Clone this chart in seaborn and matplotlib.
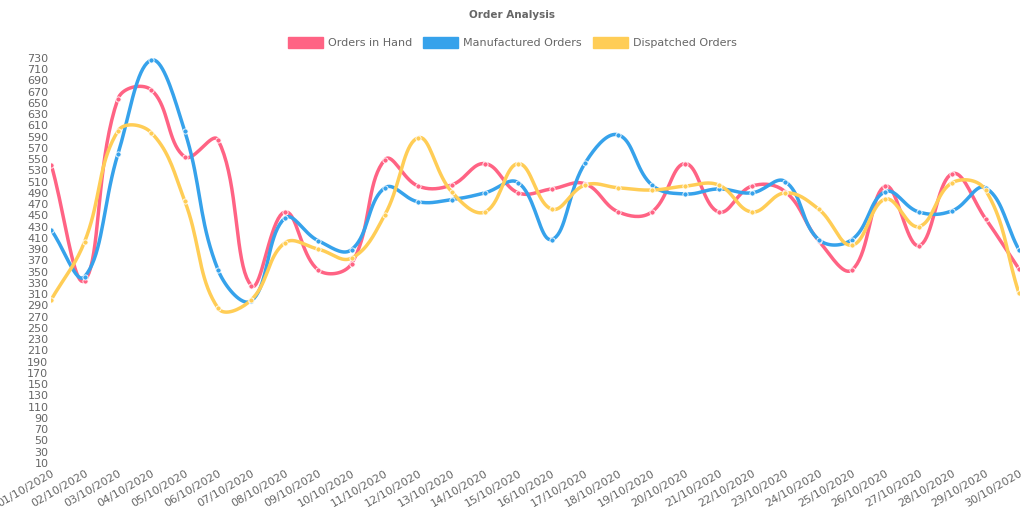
import numpy as np
import pandas as pd
import matplotlib
matplotlib.use("Agg")
import matplotlib.pyplot as plt
import seaborn as sns

dates = ["%02d/10/2020" % d for d in range(1, 31)]
orders_in_hand = [540, 334, 657, 673, 554, 584, 325, 456, 353, 364, 549, 502, 504, 542, 490,
                  497, 506, 456, 456, 542, 456, 502, 492, 405, 353, 502, 396, 524, 444, 355]
manufactured = [424, 341, 559, 726, 600, 353, 298, 445, 405, 389, 499, 474, 478, 490, 508,
                407, 543, 593, 504, 488, 497, 490, 510, 407, 407, 492, 456, 458, 499, 389]
dispatched = [300, 403, 600, 597, 476, 285, 300, 401, 390, 374, 451, 588, 492, 456, 542,
              461, 504, 499, 495, 502, 504, 456, 490, 461, 397, 479, 430, 508, 495, 312]

colors = {"Orders in Hand": "#FF6384", "Manufactured Orders": "#36A2EB", "Dispatched Orders": "#FFCD56"}


def spline(xs, ys, tension=0.4, steps=20):
    # bezier curve like chart.js
    xs = np.asarray(xs, float); ys = np.asarray(ys, float)
    n = len(xs)
    cps = []
    for i in range(n):
        p = (xs[max(i - 1, 0)], ys[max(i - 1, 0)])
        c = (xs[i], ys[i])
        nx = (xs[min(i + 1, n - 1)], ys[min(i + 1, n - 1)])
        d01 = np.hypot(c[0] - p[0], c[1] - p[1])
        d12 = np.hypot(nx[0] - c[0], nx[1] - c[1])
        s01 = d01 / (d01 + d12) if d01 + d12 else 0
        s12 = d12 / (d01 + d12) if d01 + d12 else 0
        fa, fb = tension * s01, tension * s12
        prev = (c[0] - fa * (nx[0] - p[0]), c[1] - fa * (nx[1] - p[1]))
        nxt = (c[0] + fb * (nx[0] - p[0]), c[1] + fb * (nx[1] - p[1]))
        cps.append((prev, nxt))
    t = np.linspace(0, 1, steps)
    ox, oy = [], []
    for i in range(n - 1):
        p0 = np.array([xs[i], ys[i]]); p3 = np.array([xs[i + 1], ys[i + 1]])
        p1 = np.array(cps[i][1]); p2 = np.array(cps[i + 1][0])
        pts = ((1 - t) ** 3)[:, None] * p0 + (3 * (1 - t) ** 2 * t)[:, None] * p1 \
            + (3 * (1 - t) * t ** 2)[:, None] * p2 + (t ** 3)[:, None] * p3
        ox.extend(pts[:, 0]); oy.extend(pts[:, 1])
    return ox, oy


# x in pixel-like units so the tension looks like the original
xscale = 33.4
yscale = 0.5625
x = np.arange(len(dates))

sns.set_style("white")
fig = plt.figure(figsize=(10.24, 5.12), dpi=100)
ax = fig.add_axes([0.05, 0.096, 0.945, 0.791])

for name, vals in [("Orders in Hand", orders_in_hand), ("Manufactured Orders", manufactured),
                   ("Dispatched Orders", dispatched)]:
    sx, sy = spline(x * xscale, np.array(vals) * yscale)
    ax.plot(np.array(sx) / xscale, np.array(sy) / yscale, color=colors[name], lw=2.5)
    df = pd.DataFrame({"x": x, "y": vals})
    sns.scatterplot(data=df, x="x", y="y", ax=ax, color=colors[name], s=14,
                    edgecolor="white", linewidth=0.6, zorder=3, legend=False)

ax.set_xlim(0, 29)
ax.set_ylim(10, 730)
ax.set_yticks(range(10, 731, 20))
ax.set_xticks(x)
ax.set_xticklabels(dates, rotation=30, ha="right", rotation_mode="anchor", fontsize=8,
                   color="#666666")
ax.tick_params(axis="y", labelsize=8, labelcolor="#666666", length=0, pad=2)
ax.tick_params(axis="x", length=0, pad=4)
ax.set_xlabel(""); ax.set_ylabel("")
for s in ax.spines.values():
    s.set_visible(False)

fig.text(0.5, 0.97, "Order Analysis", ha="center", va="center", fontsize=7.5,
         fontweight="bold", color="#666666")
handles = [plt.Rectangle((0, 0), 1, 1, color=c) for c in colors.values()]
fig.legend(handles, list(colors.keys()), loc="center", bbox_to_anchor=(0.5, 0.917), ncol=3,
           frameon=False, fontsize=8, handlelength=3.2, handleheight=1.1, columnspacing=1.0,
           handletextpad=0.4, labelcolor="#666666")

fig.savefig("out.png", dpi=100)
